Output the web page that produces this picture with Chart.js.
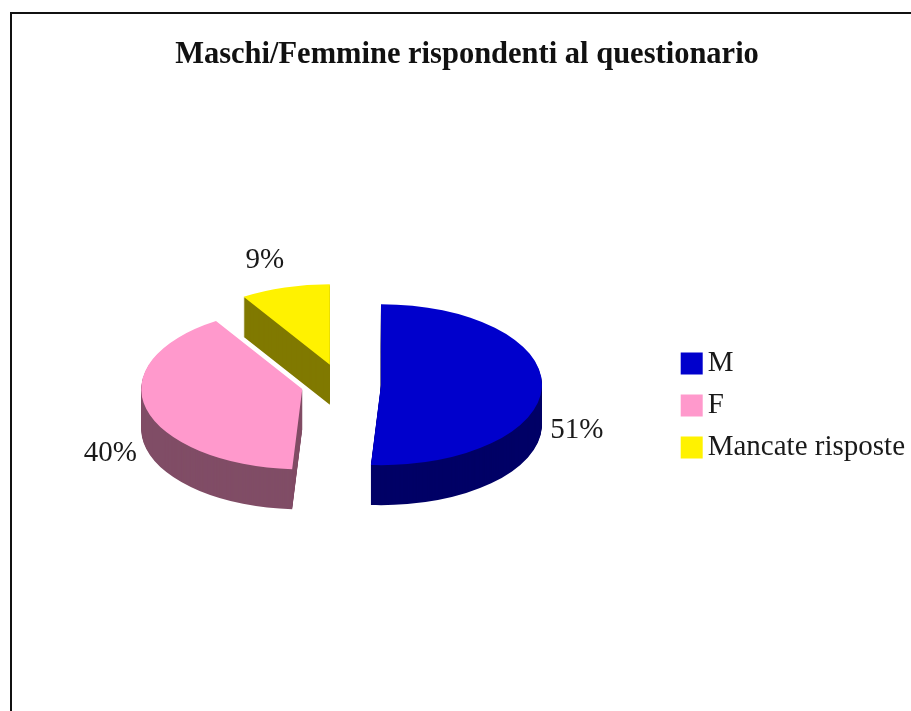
<!DOCTYPE html>
<html>
<head>
<meta charset="utf-8">
<title>Maschi/Femmine rispondenti al questionario</title>
<script src="https://cdn.jsdelivr.net/npm/chart.js@4/dist/chart.umd.min.js"></script>
<style>
  html, body { margin: 0; padding: 0; background: #fff; overflow: hidden; }
  #wrap { position: relative; width: 911px; height: 711px; }
  #frame { position: absolute; left: 10px; top: 11.5px; right: -10px; bottom: -10px; border: 2.5px solid #111; }
  canvas { position: absolute; left: 0; top: 0; }
</style>
</head>
<body>
<div id="wrap">
  <div id="frame"></div>
  <canvas id="pieChart" width="911" height="711"></canvas>
</div>
<script>
const titleText = "Maschi/Femmine rispondenti al questionario";
const categories = ["M", "F", "Mancate risposte"];
const percentValues = [51, 40, 9];
const topColors = ["#0000cc", "#ff99cc", "#fff200"];
const sideColors = ["#000066", "#804d66", "#807900"];

// percent labels: distance from the apex, then a nudge
const labelDistance = 197;
const labelNudges = [[-1, 43], [-1, 40], [-10, -10]];

const PIE_X = 341;
const PIE_Y = 384;
const PIE_SQUASH = 0.5;
const PIE_DEPTH = 40;
const PIE_EXPLODE = 40;
const SERIF = "'Liberation Serif', serif";

// squash the flat slice and move it out along its own middle angle
function sliceTransform(ctx, arc, dy) {
  const mid = (arc.startAngle + arc.endAngle) / 2;
  ctx.translate(PIE_X, PIE_Y + dy);
  ctx.scale(1, PIE_SQUASH);
  ctx.translate(Math.cos(mid) * PIE_EXPLODE - arc.x, Math.sin(mid) * PIE_EXPLODE - arc.y);
}

const pie3d = {
  id: "pie3d",
  beforeDatasetsDraw(chart) {
    const ctx = chart.ctx;
    const arcs = chart.getDatasetMeta(0).data;
    // side walls: the slice repeated downwards in its dark colour
    for (let d = PIE_DEPTH; d >= 1; d--) {
      arcs.forEach((arc, i) => {
        const opts = arc.options;
        arc.options = Object.assign(Object.create(opts), { backgroundColor: sideColors[i] });
        ctx.save();
        sliceTransform(ctx, arc, d);
        arc.draw(ctx);
        ctx.restore();
        arc.options = opts;
      });
    }
    arcs.forEach((arc) => {
      ctx.save();
      sliceTransform(ctx, arc, 0);
      arc.draw(ctx);
      ctx.restore();
    });
    return false;
  },
  afterDraw(chart) {
    const ctx = chart.ctx;
    const arcs = chart.getDatasetMeta(0).data;
    ctx.save();
    ctx.font = "29px " + SERIF;
    ctx.fillStyle = "#1a1a1a";
    ctx.textAlign = "center";
    ctx.textBaseline = "middle";
    arcs.forEach((arc, i) => {
      const mid = (arc.startAngle + arc.endAngle) / 2;
      const dist = PIE_EXPLODE + labelDistance;
      const x = PIE_X + Math.cos(mid) * dist + labelNudges[i][0];
      const y = PIE_Y + Math.sin(mid) * PIE_SQUASH * dist + labelNudges[i][1];
      ctx.fillText(percentValues[i] + "%", x, y);
    });
    ctx.restore();
  },
};

new Chart(document.getElementById("pieChart"), {
  type: "pie",
  data: {
    labels: categories,
    datasets: [
      {
        data: percentValues,
        backgroundColor: topColors,
        borderWidth: 0,
        radius: 161,
      },
    ],
  },
  plugins: [pie3d],
  options: {
    responsive: false,
    animation: false,
    layout: { padding: { left: 19, right: -4, top: 37, bottom: -63 } },
    plugins: {
      tooltip: { enabled: false },
      title: {
        display: true,
        text: titleText,
        color: "#111",
        font: { family: SERIF, size: 30.5, weight: "bold" },
        padding: { top: 0, bottom: 70 },
      },
      legend: {
        position: "right",
        labels: {
          color: "#1a1a1a",
          font: { family: SERIF, size: 29 },
          boxWidth: 3,
          boxHeight: 3,
          padding: 13,
          // thick same-colour outline gives the 22px swatch with a small gap to the text
          generateLabels(chart) {
            return Chart.overrides.pie.plugins.legend.labels.generateLabels(chart).map((item) => ({
              ...item,
              lineWidth: 19,
              strokeStyle: item.fillStyle,
            }));
          },
        },
      },
    },
  },
});
</script>
</body>
</html>
